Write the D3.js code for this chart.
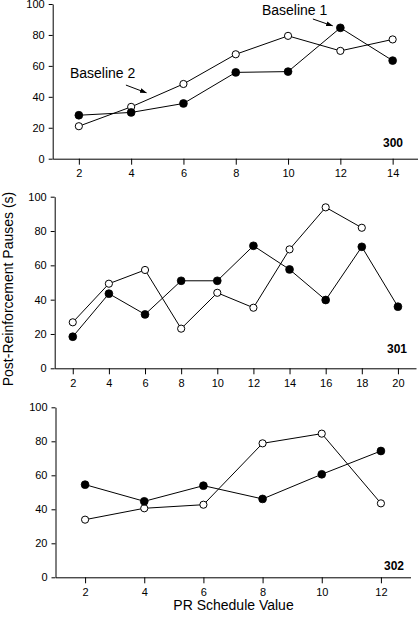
<!DOCTYPE html>
<html>
<head>
<meta charset="utf-8">
<script src="https://cdn.jsdelivr.net/npm/d3@7"></script>
<style>
  html, body { margin: 0; padding: 0; background: #fff; }
  svg { display: block; font-family: "Liberation Sans", Arial, sans-serif; }
</style>
</head>
<body>
<svg id="chart" width="418" height="618"></svg>
<script>
// ---- Data ----
const yTicks = [0, 20, 40, 60, 80, 100];

const p300X = [2, 4, 6, 8, 10, 12, 14];
const p300Baseline1 = [28.1, 29.9, 35.7, 55.8, 56.3, 84.6, 63.4];
const p300Baseline2 = [21.0, 33.5, 48.3, 67.5, 79.4, 69.7, 77.1];

const p301X = [2, 4, 6, 8, 10, 12, 14, 16, 18, 20];
const p301Baseline1 = [18.4, 43.5, 31.4, 51.0, 51.0, 71.4, 57.6, 39.8, 70.8, 35.9];
const p301Baseline2 = [26.8, 49.3, 57.3, 23.1, 44.0, 35.3, 69.3, 93.8, 81.9];

const p302X = [2, 4, 6, 8, 10, 12];
const p302Baseline1 = [54.5, 44.7, 53.9, 46.1, 60.6, 74.3];
const p302Baseline2 = [33.9, 40.6, 42.7, 78.8, 84.5, 43.5];

const panelNames = ["300", "301", "302"];
const yTitle = "Post-Reinforcement Pauses (s)";
const xTitle = "PR Schedule Value";

// ---- Layout ----
const panels = [
  { name: panelNames[0], x: p300X, b1: p300Baseline1, b2: p300Baseline2,
    xDom: [1, 15], xRange: [52.7, 418.8], yRange: [158.7, 4] },
  { name: panelNames[1], x: p301X, b1: p301Baseline1, b2: p301Baseline2,
    xDom: [1, 21], xRange: [54.7, 416], yRange: [368.3, 196.7] },
  { name: panelNames[2], x: p302X, b1: p302Baseline1, b2: p302Baseline2,
    xDom: [1, 13], xRange: [55.5, 410.5], yRange: [577.3, 407.3] }
];

const svg = d3.select("#chart");

svg.append("defs").append("marker")
  .attr("id", "arrow")
  .attr("viewBox", "0 0 10 10")
  .attr("refX", 9).attr("refY", 5)
  .attr("markerWidth", 7).attr("markerHeight", 7)
  .attr("markerUnits", "userSpaceOnUse")
  .attr("orient", "auto")
  .append("path").attr("d", "M0,1.5 L10,5 L0,8.5 Z").attr("fill", "#000");

const scales = [];

panels.forEach((p, i) => {
  const x = d3.scaleLinear().domain(p.xDom).range(p.xRange);
  const y = d3.scaleLinear().domain([0, 100]).range(p.yRange);
  scales.push({ x, y });
  const g = svg.append("g");

  const xAxis = d3.axisBottom(x)
    .tickValues(p.x).tickFormat(d3.format("d"))
    .tickSize(6).tickSizeOuter(0).tickPadding(5);
  const gx = g.append("g").attr("transform", `translate(0,${p.yRange[0]})`).call(xAxis);

  const yAxis = d3.axisLeft(y)
    .tickValues(yTicks).tickSize(4).tickSizeOuter(0).tickPadding(4);
  const gy = g.append("g").attr("transform", `translate(${p.xRange[0]},0)`).call(yAxis);

  [gx, gy].forEach(a => {
    a.selectAll("path.domain").attr("stroke", "#000").attr("stroke-width", 1);
    a.selectAll(".tick line").attr("stroke", "#000").attr("stroke-width", 1);
    a.selectAll(".tick text").attr("font-size", 11).attr("fill", "#000")
      .attr("font-family", "Liberation Sans, Arial, sans-serif");
  });

  const line = d3.line().x(d => x(d[0])).y(d => y(d[1]));
  const s1 = p.x.map((v, k) => [v, p.b1[k]]).filter(d => d[1] != null);
  const s2 = p.x.slice(0, p.b2.length).map((v, k) => [v, p.b2[k]]);

  g.append("path").datum(s2).attr("d", line)
    .attr("fill", "none").attr("stroke", "#000").attr("stroke-width", 1);
  g.append("path").datum(s1).attr("d", line)
    .attr("fill", "none").attr("stroke", "#000").attr("stroke-width", 1);

  g.selectAll("circle.b2").data(s2).join("circle").attr("class", "b2")
    .attr("cx", d => x(d[0])).attr("cy", d => y(d[1])).attr("r", 3.6)
    .attr("fill", "#fff").attr("stroke", "#000").attr("stroke-width", 1);
  g.selectAll("circle.b1").data(s1).join("circle").attr("class", "b1")
    .attr("cx", d => x(d[0])).attr("cy", d => y(d[1])).attr("r", 3.9)
    .attr("fill", "#000").attr("stroke", "#000").attr("stroke-width", 0.8);

  const nameX = [403, 407, 404][i];
  const nameY = [147, 353, 570][i];
  g.append("text").attr("x", nameX).attr("y", nameY)
    .attr("text-anchor", "end").attr("font-size", 12).attr("font-weight", "bold")
    .text(p.name);
});

// ---- Annotations (panel 300, data coordinates) ----
const a = scales[0];
const ann = svg.append("g").attr("font-size", 14);
ann.append("text").attr("x", a.x(9.0)).attr("y", a.y(93.2)).text("Baseline 1");
ann.append("line")
  .attr("x1", a.x(10.95)).attr("y1", a.y(90.3))
  .attr("x2", a.x(11.7)).attr("y2", a.y(85.9))
  .attr("stroke", "#000").attr("stroke-width", 1).attr("marker-end", "url(#arrow)");
ann.append("text").attr("x", a.x(1.66)).attr("y", a.y(52.2)).text("Baseline 2");
ann.append("line")
  .attr("x1", a.x(3.8)).attr("y1", a.y(47.6))
  .attr("x2", a.x(4.58)).attr("y2", a.y(42.6))
  .attr("stroke", "#000").attr("stroke-width", 1).attr("marker-end", "url(#arrow)");

// ---- Axis titles ----
svg.append("text")
  .attr("transform", "translate(13,289) rotate(-90)")
  .attr("text-anchor", "middle").attr("font-size", 14)
  .text(yTitle);
svg.append("text")
  .attr("x", 233.5).attr("y", 610)
  .attr("text-anchor", "middle").attr("font-size", 14)
  .text(xTitle);
</script>
</body>
</html>
